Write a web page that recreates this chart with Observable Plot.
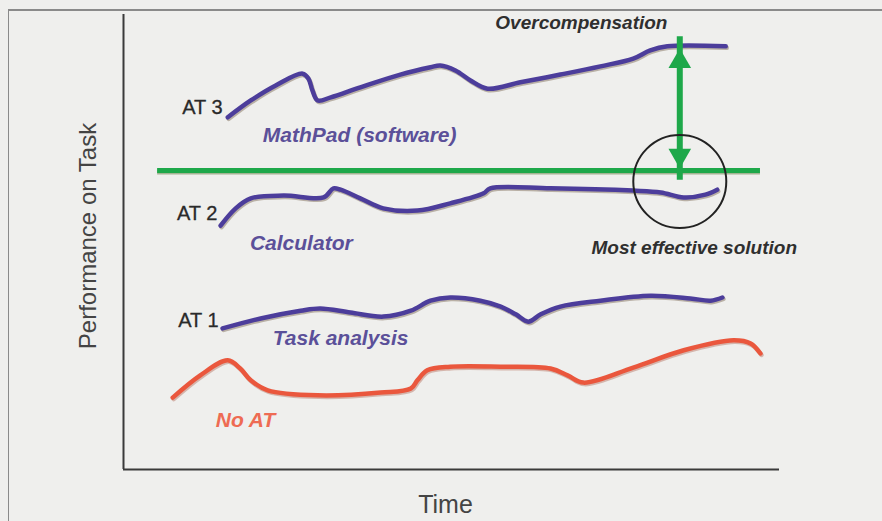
<!DOCTYPE html>
<html>
<head>
<meta charset="utf-8">
<script src="https://cdn.jsdelivr.net/npm/d3@7"></script>
<script src="https://cdn.jsdelivr.net/npm/@observablehq/plot@0.6"></script>
<style>
  html, body { margin: 0; padding: 0; background: #efefed; overflow: hidden; }
  #wrap { position: relative; width: 882px; height: 521px; }
  #border { position: absolute; left: 8px; top: 9px; width: 900px; height: 600px; border-left: 1.5px solid #8a8a8a; border-top: 2px solid #8a8a8a; box-sizing: border-box; }
  #chart { position: absolute; left: 0; top: 0; }
  svg { font-family: "Liberation Sans", Arial, sans-serif; }
</style>
</head>
<body>
<div id="wrap"><div id="border"></div><div id="chart"></div></div>
<script>
// ---- Data (time 0–100, performance 0–100) ----
const at3Time = [15.9, 19.4, 23.2, 27.3, 28.2, 28.8, 29.6, 31.6, 36.1, 42.2, 46.8, 48.3, 50.6, 52.9, 55.5, 60.5, 66.6, 72.7, 77.7, 80.3, 82.9, 91.8];
const at3Perf = [77.4, 81.1, 84.4, 87.0, 85.9, 83.3, 81.1, 81.8, 84.0, 86.8, 88.4, 88.8, 87.7, 85.5, 83.7, 85.1, 86.8, 88.6, 90.3, 92.1, 93.0, 93.0];

const at2Time = [14.8, 17.1, 19.4, 24.4, 30.5, 32.0, 33.1, 36.1, 39.6, 44.8, 49.8, 54.9, 55.9, 65.1, 77.7, 81.9, 85.4, 88.7, 90.5];
const at2Perf = [53.6, 57.4, 59.6, 60.2, 59.8, 61.8, 61.5, 59.6, 57.4, 56.9, 58.5, 60.7, 61.8, 61.8, 61.3, 60.9, 59.8, 60.4, 61.5];

const at1Time = [15.1, 20.9, 27.0, 30.0, 34.6, 39.6, 43.8, 46.8, 49.8, 54.4, 57.5, 59.8, 61.7, 63.6, 66.6, 72.7, 80.3, 86.4, 89.5, 91.3];
const at1Perf = [31.0, 33.2, 34.9, 35.4, 34.5, 33.6, 34.9, 37.1, 37.8, 37.1, 35.8, 34.1, 32.5, 34.1, 35.8, 37.1, 38.2, 37.6, 37.1, 37.8];

const noAtTime = [7.5, 11.7, 15.9, 17.8, 19.4, 22.0, 29.6, 39.2, 43.8, 44.8, 46.3, 49.8, 57.5, 65.1, 67.7, 70.1, 77.7, 85.4, 93.0, 95.6, 97.1];
const noAtPerf = [15.8, 20.7, 24.0, 22.2, 19.6, 17.4, 16.3, 16.9, 17.8, 19.6, 21.8, 22.6, 22.6, 22.2, 20.7, 19.1, 22.4, 26.2, 28.4, 27.7, 25.5];

// target (most effective) level
const targetLevel = 65.7;
const targetStart = 5.2, targetEnd = 97.1;

// overcompensation arrow and "most effective" circle
const arrowTime = 84.8, arrowTop = 92.5, arrowBottom = 66.2;
const circleTime = 84.8, circlePerf = 63.3;

// labels
const labelText  = ["AT 3", "AT 2", "AT 1"];
const labelTime  = [15.1, 14.3, 14.5];
const labelPerf  = [79.6, 56.3, 32.7];

const nameText = ["MathPad (software)", "Calculator", "Task analysis", "No AT"];
const nameTime = [36.0, 27.1, 33.1, 18.6];
const namePerf = [73.4, 49.7, 28.8, 10.8];

const noteText = ["Overcompensation", "Most effective solution"];
const noteTime = [69.8, 87.0];
const notePerf = [98.2, 48.6];

// ---- Build tables ----
const toRows = (ts, ps) => ts.map((t, i) => ({t, p: ps[i]}));
const at3 = toRows(at3Time, at3Perf);
const at2 = toRows(at2Time, at2Perf);
const at1 = toRows(at1Time, at1Perf);
const noAt = toRows(noAtTime, noAtPerf);
const labels = labelText.map((s, i) => ({s, t: labelTime[i], p: labelPerf[i]}));
const names = nameText.map((s, i) => ({s, t: nameTime[i], p: namePerf[i]}));
const notes = noteText.map((s, i) => ({s, t: noteTime[i], p: notePerf[i]}));

const PURPLE = "#4c3d9b", PURPLE_TXT = "#5b5099", RED = "#ea573d", GREEN = "#1ea84a";

const lineOpts = {x: "t", y: "p", curve: "catmull-rom", strokeLinecap: "round", strokeLinejoin: "round"};
const shadow = (data) => Plot.line(data, {...lineOpts, stroke: "#8c7b6a", strokeOpacity: 0.55, strokeWidth: 4.5, dx: 1, dy: 1.5});

const chart = Plot.plot({
  width: 882,
  height: 521,
  marginLeft: 123,
  marginRight: 103,
  marginTop: 14,
  marginBottom: 52,
  style: {background: "transparent", overflow: "visible"},
  x: {domain: [0, 100], axis: null},
  y: {domain: [0, 100], axis: null},
  marks: [
    // axes
    Plot.ruleX([0], {y1: 0, y2: 100, stroke: "#3a3a3a", strokeWidth: 2}),
    Plot.ruleY([0], {x1: 0, x2: 100, stroke: "#3a3a3a", strokeWidth: 2}),
    // target line
    Plot.ruleY([targetLevel], {x1: targetStart, x2: targetEnd, stroke: "#5a7a3a", strokeOpacity: 0.5, strokeWidth: 5, dy: 1.5}),
    Plot.ruleY([targetLevel], {x1: targetStart, x2: targetEnd, stroke: GREEN, strokeWidth: 5}),
    // curves
    shadow(at3), Plot.line(at3, {...lineOpts, stroke: PURPLE, strokeWidth: 4.5}),
    shadow(at2), Plot.line(at2, {...lineOpts, stroke: PURPLE, strokeWidth: 4.5}),
    shadow(at1), Plot.line(at1, {...lineOpts, stroke: PURPLE, strokeWidth: 4.5}),
    Plot.line(noAt, {...lineOpts, stroke: "#b0604a", strokeOpacity: 0.4, strokeWidth: 4.5, dx: 1, dy: 1.5}),
    Plot.line(noAt, {...lineOpts, stroke: RED, strokeWidth: 4.5}),
    // double-headed arrow
    Plot.ruleX([arrowTime], {y1: arrowBottom, y2: arrowTop, stroke: GREEN, strokeWidth: 6, insetTop: 12, insetBottom: 12}),
    Plot.dot([arrowTime], {x: d => d, y: arrowTop, symbol: "triangle", r: 8.4, fill: GREEN, stroke: "none", dy: 12.9}),
    Plot.dot([arrowTime], {x: d => d, y: arrowBottom, symbol: "triangle", r: 8.4, fill: GREEN, stroke: "none", rotate: 180, dy: -12.9}),
    // circle
    Plot.dot([circleTime], {x: d => d, y: circlePerf, r: 46.5, fill: "none", stroke: "#222", strokeWidth: 2}),
    // AT labels
    Plot.text(labels, {x: "t", y: "p", text: "s", textAnchor: "end", fontSize: 20, fill: "#2a2a2a", stroke: "#2a2a2a", strokeWidth: 0.3}),
    // names
    Plot.text(names, {x: "t", y: "p", text: "s", fontSize: 21, fontWeight: "bold", fontStyle: "italic", fill: d => d.s === "No AT" ? "#ee6b53" : PURPLE_TXT}),
    // notes
    Plot.text(notes, {x: "t", y: "p", text: "s", fontSize: 19, fontWeight: "bold", fontStyle: "italic", fill: "#2f2f2f"}),
    // axis titles
    Plot.text(["Time"], {frameAnchor: "bottom", dx: -6, dy: 43, fontSize: 25, fill: "#444"}),
    Plot.text(["Performance on Task"], {frameAnchor: "left", textAnchor: "middle", rotate: -90, dx: -35, dy: -6, fontSize: 24, fill: "#444"})
  ]
});
document.getElementById("chart").appendChild(chart);
</script>
</body>
</html>
